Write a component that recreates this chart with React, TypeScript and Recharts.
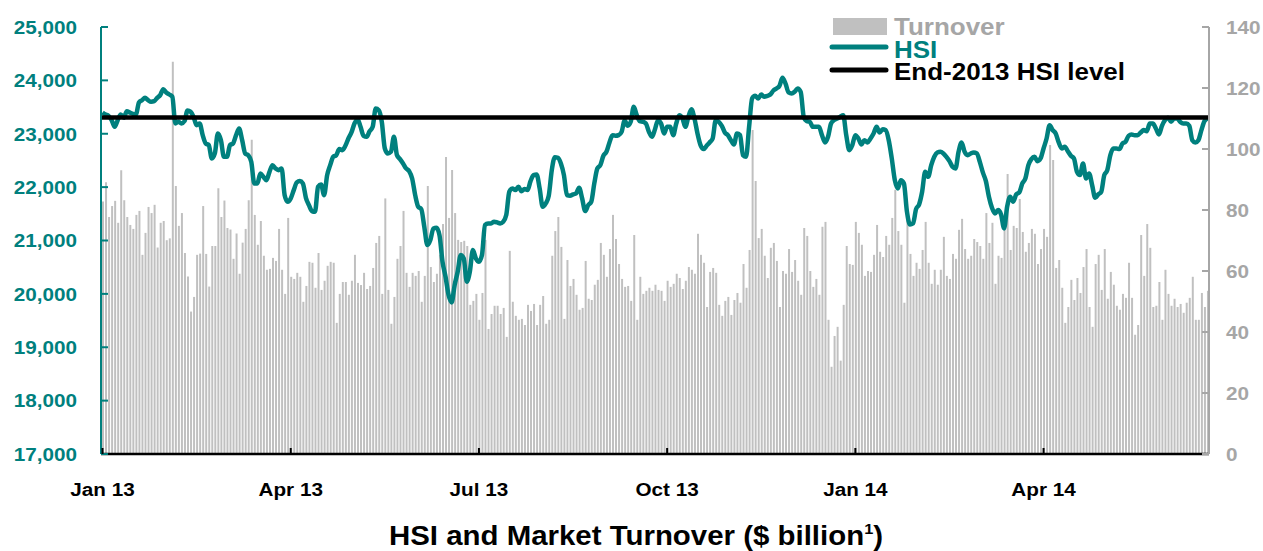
import React from 'react';
import { ComposedChart, Bar, Line, XAxis, YAxis, ReferenceLine } from 'recharts';

// daily turnover, $ billion, one array per quarter
const turnoverQ1_13 = [
  82.8, 89.1, 77.7, 81.3, 83.0, 75.8, 93.0, 83.2, 77.7, 75.1, 73.8, 78.4, 79.7, 65.3, 72.5, 81.0,
  79.0, 81.7, 67.7, 75.8, 76.4, 70.1, 70.7, 128.6, 87.9, 74.8, 79.0, 65.9, 58.2, 46.7, 51.5, 65.3,
  65.7, 81.3, 65.6, 54.9, 68.2, 68.2, 87.1, 77.7, 83.1, 74.1, 73.6, 64.0, 72.3, 59.1, 69.3, 73.8,
  83.2, 103.0, 78.4, 68.6, 76.4, 65.0, 60.4, 60.7, 64.3, 63.3, 73.8, 60.4, 52.5, 77.4,
];
const turnoverQ2_13 = [
  58.1, 57.4, 59.4, 58.1, 49.9, 55.1, 63.0, 62.7, 54.5, 65.9, 53.8, 56.8, 61.7, 63.0, 62.7, 43.0,
  52.5, 56.4, 56.4, 52.2, 56.8, 65.3, 56.1, 55.4, 59.4, 54.1, 55.1, 61.0, 69.2, 71.5, 52.5, 83.8,
  53.8, 42.7, 51.5, 64.0, 68.2, 79.7, 59.4, 54.8, 59.4, 58.4, 60.0, 49.9, 58.4, 87.9, 61.3, 56.4,
  59.1, 65.3, 75.4, 97.4, 77.4, 93.1, 79.0, 70.2, 69.5, 69.9, 68.2, 48.9, 50.2, 52.5,
];
const turnoverQ3_13 = [
  44.0, 52.8, 70.2, 41.0, 45.9, 48.6, 48.6, 45.9, 47.9, 38.4, 66.6, 49.9, 45.3, 44.0, 44.3, 42.3,
  48.9, 46.9, 49.2, 42.3, 48.9, 51.8, 42.7, 44.0, 65.0, 73.1, 77.7, 67.9, 44.3, 63.6, 55.1, 57.4,
  52.2, 47.3, 47.9, 63.3, 50.9, 50.5, 55.5, 57.1, 69.2, 65.3, 58.1, 67.2, 78.4, 70.5, 62.3, 57.4,
  54.8, 55.1, 50.2, 71.8, 44.0, 58.1, 52.5, 53.5, 54.5, 53.5, 55.5, 53.8, 53.5, 50.2,
];
const turnoverQ4_13 = [
  56.8, 54.8, 55.8, 59.1, 57.7, 54.1, 56.8, 61.3, 60.4, 59.1, 72.2, 65.3, 62.7, 48.2, 59.7, 61.0,
  59.4, 48.9, 45.3, 50.2, 51.5, 45.6, 50.5, 52.8, 49.6, 62.3, 54.5, 66.9, 106.2, 89.5, 70.8, 73.8,
  65.0, 57.7, 67.6, 69.2, 63.3, 48.2, 60.0, 59.1, 67.2, 59.7, 63.6, 56.8, 52.2, 74.1, 71.5, 60.0,
  54.8, 57.4, 52.2, 74.5, 76.1, 44.0, 28.6, 38.7, 41.7, 30.6, 48.9, 68.2, 62.3, 62.0,
];
const turnoverQ1_14 = [
  76.1, 72.5, 68.6, 58.4, 60.0, 59.7, 65.3, 75.1, 66.3, 64.6, 71.5, 68.6, 77.4, 86.6, 73.1, 68.6,
  49.6, 77.7, 65.6, 58.4, 62.7, 60.7, 66.9, 76.1, 62.7, 55.8, 60.4, 55.5, 60.4, 71.2, 58.4, 57.4,
  65.6, 64.0, 73.5, 77.1, 67.2, 64.0, 65.0, 70.5, 69.5, 68.2, 64.0, 79.0, 69.2, 75.8, 55.8, 65.0,
  64.3, 74.1, 91.8, 66.9, 74.8, 74.1, 83.6, 72.8, 66.3, 69.2, 73.8, 72.2, 62.3, 67.2,
];
const turnoverQ2_14 = [
  73.8, 71.2, 101.3, 96.4, 61.0, 63.6, 54.5, 43.0, 48.2, 57.1, 50.5, 57.7, 52.8, 61.3, 67.2, 48.2,
  41.7, 62.3, 65.3, 53.8, 67.2, 50.9, 59.7, 55.5, 48.6, 47.3, 52.5, 51.2, 62.7, 51.2, 39.1, 42.3,
  71.8, 58.4, 75.4, 67.6, 48.2, 48.6, 56.4, 44.0, 60.4, 52.5, 48.6, 50.9, 48.2, 49.2, 46.3, 49.6,
  51.2, 58.1, 44.0, 44.0, 52.8, 48.2, 53.5,
];

// daily HSI close
const hsiQ1_13 = [
  23398, 23361, 23336, 23255, 23130, 23255, 23361, 23298, 23423, 23398, 23373, 23361, 23586, 23629,
  23673, 23629, 23598, 23610, 23673, 23723, 23835, 23773, 23735, 23692, 23192, 23224, 23192, 23236,
  23436, 23411, 23317, 23161, 23192, 22974, 22818, 22787, 22537, 22631, 23005, 22880, 22568, 22568,
  22787, 22818, 22974, 23099, 22880, 22631, 22599, 22474, 22069, 22069, 22256, 22194, 22131, 22287,
  22412, 22350, 22318, 22350, 21850, 21726,
];
const hsiQ2_13 = [
  21788, 21944, 22088, 22113, 22069, 21800, 21663, 21551, 21538, 22006, 22050, 21850, 22225, 22412,
  22568, 22599, 22712, 22693, 22774, 22912, 23024, 23192, 23274, 23130, 22961, 22943, 23049, 23130,
  23473, 23442, 23224, 22724, 22631, 22662, 22943, 22599, 22524, 22443, 22350, 22300, 22162, 21850,
  21632, 21588, 21257, 20914, 21008, 21226, 21239, 21101, 20602, 20321, 19978, 19840, 20165, 20415,
  20727, 20664, 20227, 20415, 20820, 20664,
];
const hsiQ3_13 = [
  20602, 20727, 21289, 21320, 21320, 21351, 21339, 21320, 21351, 21476, 21913, 21975, 21944, 22006,
  21925, 21963, 21944, 22112, 22225, 22237, 21975, 21632, 21694, 21838, 22318, 22562, 22549, 22443,
  22225, 21850, 21838, 21863, 21882, 21988, 21788, 21551, 21663, 21726, 22069, 22350, 22412, 22587,
  22662, 22837, 22974, 22961, 22974, 23036, 23249, 23149, 23224, 23505, 23348, 23236, 23224, 23192,
  23036, 22943, 23086, 23255, 23192, 23005,
];
const hsiQ4_13 = [
  23130, 23130, 22974, 23192, 23348, 23298, 23130, 23317, 23461, 23286, 23005, 22787, 22712, 22774,
  22837, 22912, 23255, 23224, 23149, 23024, 22974, 22880, 22799, 23005, 22974, 22599, 22568, 23130,
  23661, 23710, 23661, 23735, 23692, 23710, 23735, 23810, 23848, 23898, 24048, 23941, 23773, 23754,
  23785, 23848, 23785, 23317, 23236, 23224, 23130, 23130, 23130, 22974, 22837, 22943, 23192, 23255,
  23286, 23317, 23348, 22974, 22693, 22787,
];
const hsiQ1_14 = [
  22974, 22912, 22799, 22880, 22837, 22912, 23005, 23130, 23024, 23086, 23068, 22880, 22537, 22131,
  21975, 22131, 22069, 21538, 21301, 21320, 21588, 21676, 21913, 22287, 22194, 22412, 22568, 22649,
  22662, 22631, 22568, 22487, 22381, 22350, 22662, 22837, 22662, 22599, 22631, 22649, 22631, 22474,
  22275, 22112, 21819, 21613, 21507, 21570, 21488, 21226, 21632, 21819, 21726, 21863, 21900, 22069,
  22162, 22412, 22524, 22568, 22487, 22537,
];
const hsiQ2_14 = [
  22724, 22912, 23161, 23068, 23005, 22837, 22724, 22755, 22674, 22587, 22537, 22287, 22225, 22443,
  22162, 22256, 22038, 21800, 21863, 21913, 22225, 22318, 22599, 22724, 22724, 22712, 22818, 22849,
  22961, 22986, 22974, 22974, 23024, 23068, 23049, 23192, 23192, 23099, 22986, 23149, 23255, 23298,
  23224, 23286, 23286, 23224, 23192, 23192, 23149, 22880, 22837, 22880, 23068, 23236, 23286,
];

const quarterLabels = ['Jan 13', 'Apr 13', 'Jul 13', 'Oct 13', 'Jan 14', 'Apr 14'];
const hsiTicks = [17000, 18000, 19000, 20000, 21000, 22000, 23000, 24000, 25000];
const turnoverTicks = [0, 20, 40, 60, 80, 100, 120, 140];
const end2013Hsi = 23306;

const turnoverByQuarter = [turnoverQ1_13, turnoverQ2_13, turnoverQ3_13, turnoverQ4_13, turnoverQ1_14, turnoverQ2_14];
const hsiByQuarter = [hsiQ1_13, hsiQ2_13, hsiQ3_13, hsiQ4_13, hsiQ1_14, hsiQ2_14];

const TEAL = '#00807e';
const BAR_GREY = '#c0c0c0';
const AXIS_GREY = '#a6a6a6';
const FONT = '"Liberation Sans", Arial, sans-serif';
const SX = 1.09; // the original's text is a little wide

// first index of each quarter -> its label
const quarterStart: Record<number, string> = {};
let startIdx = 0;
hsiByQuarter.forEach((q, k) => {
  quarterStart[startIdx] = quarterLabels[k];
  startIdx += q.length;
});

const turnover = turnoverByQuarter.flat();
const hsi = hsiByQuarter.flat();
const data = hsi.map((v, i) => ({ i, hsi: v, turnover: turnover[i] }));

const stretch = (x: number, y: number) =>
  `translate(${x} ${y}) scale(${SX} 1) translate(${-x} ${-y})`;

const fmt = (v: number) => String(v).replace(/\B(?=(\d{3})+(?!\d))/g, ',');

function XTick({ x, y, payload }: any) {
  const label = quarterStart[payload.value];
  if (label === undefined) {return <g />;}
  return (
    <g>
      <line x1={x} x2={x} y1={y} y2={y - 6} stroke="#000" strokeWidth={2} />
      <text x={x} y={y + 42} textAnchor="middle" fontFamily={FONT} fontWeight="bold" fontSize={19}
        fill="#000" transform={stretch(x, y + 42)}>{label}</text>
    </g>
  );
}

function LeftTick({ x, y, payload }: any) {
  return (
    <text x={x} y={y} dy="0.36em" textAnchor="end" fontFamily={FONT} fontWeight="bold" fontSize={19}
      fill={TEAL} transform={stretch(x, y)}>{fmt(payload.value)}</text>
  );
}

function RightTick({ x, y, payload }: any) {
  return (
    <text x={x} y={y} dy="0.36em" textAnchor="start" fontFamily={FONT} fontWeight="bold" fontSize={19}
      fill={AXIS_GREY} transform={stretch(x, y)}>{payload.value}</text>
  );
}

export default function App() {
  return (
    <div style={{ position: 'absolute', left: 0, top: 0, width: 1263, height: 551, background: '#fff' }}>
      <ComposedChart
        width={1263}
        height={551}
        data={data}
        margin={{ top: 27, right: 0, bottom: 0, left: 0 }}
      >
        <XAxis
          dataKey="i"
          height={97}
          interval={0}
          tickSize={0}
          tickMargin={0}
          tickLine={false}
          axisLine={{ stroke: '#000', strokeWidth: 2.5 }}
          tick={(p: any) => <XTick {...p} />}
        />
        <YAxis
          yAxisId="left"
          orientation="left"
          width={101}
          domain={[17000, 25000]}
          ticks={hsiTicks}
          interval={0}
          allowDataOverflow
          axisLine={{ stroke: TEAL, strokeWidth: 2 }}
          tickLine={{ stroke: TEAL, strokeWidth: 2 }}
          tickSize={-7}
          tickMargin={31}
          tick={(p: any) => <LeftTick {...p} />}
        />
        <YAxis
          yAxisId="right"
          orientation="right"
          width={54}
          domain={[0, 140]}
          ticks={turnoverTicks}
          interval={0}
          axisLine={{ stroke: AXIS_GREY, strokeWidth: 2 }}
          tickLine={{ stroke: AXIS_GREY, strokeWidth: 2 }}
          tickSize={-7}
          tickMargin={24}
          tick={(p: any) => <RightTick {...p} />}
        />
        <Bar yAxisId="right" dataKey="turnover" fill={BAR_GREY} barSize={2} isAnimationActive={false} />
        <Line
          yAxisId="left"
          type="monotone"
          dataKey="hsi"
          stroke={TEAL}
          strokeWidth={4.5}
          dot={false}
          activeDot={false}
          isAnimationActive={false}
        />
        <ReferenceLine yAxisId="left" y={end2013Hsi} stroke="#000" strokeWidth={4.5} />
      </ComposedChart>

      <svg width={1263} height={551} style={{ position: 'absolute', left: 0, top: 0, pointerEvents: 'none' }}>
        <g fontFamily={FONT} fontWeight="bold" fontSize={23}>
          <rect x={833} y={18} width={54} height={17} fill={BAR_GREY} />
          <text x={894} y={35} fill={AXIS_GREY} transform={`translate(894 35) scale(1.13 1) translate(-894 -35)`}>Turnover</text>
          <line x1={832} x2={886} y1={47} y2={47} stroke={TEAL} strokeWidth={5} strokeLinecap="round" />
          <text x={894} y={58.5} fill={TEAL} transform={`translate(894 58.5) scale(1.13 1) translate(-894 -58.5)`}>HSI</text>
          <line x1={832} x2={886} y1={70} y2={70} stroke="#000" strokeWidth={5} strokeLinecap="round" />
          <text x={894} y={80} fill="#000" transform={`translate(894 80) scale(1.13 1) translate(-894 -80)`}>End-2013 HSI level</text>
        </g>
        <text x={636} y={545} textAnchor="middle" fontFamily={FONT} fontWeight="bold" fontSize={27}
          fill="#000" transform={stretch(636, 545)}>
          HSI and Market Turnover ($ billion<tspan fontSize={15} dy={-11}>1</tspan><tspan dy={11}>)</tspan>
        </text>
      </svg>
    </div>
  );
}
